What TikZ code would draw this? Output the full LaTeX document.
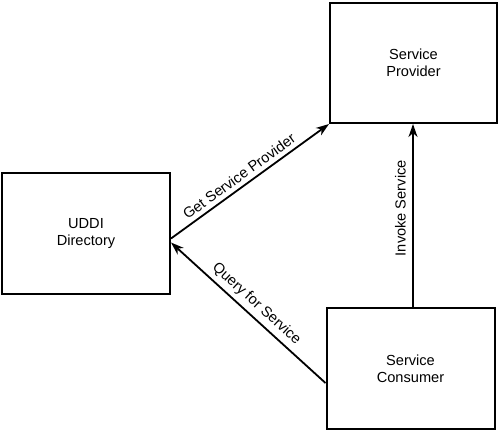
\documentclass[tikz,border=0pt]{standalone}
\usepackage{fontspec}
\setmainfont{Liberation Sans}
\usetikzlibrary{arrows.meta}
\begin{document}
\begin{tikzpicture}[x=1pt,y=-1pt,
  box/.style={draw, line width=2pt, align=center, font=\fontsize{14.6}{17}\selectfont, inner sep=0pt},
  conn/.style={line width=1.8pt, -{Stealth[length=13pt,width=9pt,inset=4pt]}},
  lbl/.style={font=\fontsize{14.6}{17}\selectfont, sloped}]
\useasboundingbox (0,0) rectangle (500,432);
\node[box, minimum width=167pt, minimum height=120pt] (prov) at (413.5,63) {Service\\Provider};
\node[box, minimum width=168pt, minimum height=121pt] (uddi) at (86,233.5) {UDDI\\Directory};
\node[box, minimum width=168pt, minimum height=121pt] (cons) at (410.5,368.5) {Service\\Consumer};
\coordinate (gs) at ([yshift=-5pt]uddi.east);
\coordinate (qt) at ([yshift=-9pt]uddi.east);
\coordinate (qs) at ([yshift=-14.5pt]cons.west);
\coordinate (is) at ([xshift=2.5pt]cons.north);
\draw[conn] (gs) -- (prov.south west) node[lbl, pos=0.47, above=1pt] {Get Service Provider};
\draw[line width=1.8pt, {Stealth[length=13pt,width=9pt,inset=4pt]}-] (qt) -- (qs) node[lbl, pos=0.5, above=1pt] {Query for Service};
\draw[conn] (is) -- (is |- prov.south) node[lbl, pos=0.54, above=3pt] {Invoke Service};
\end{tikzpicture}
\end{document}
